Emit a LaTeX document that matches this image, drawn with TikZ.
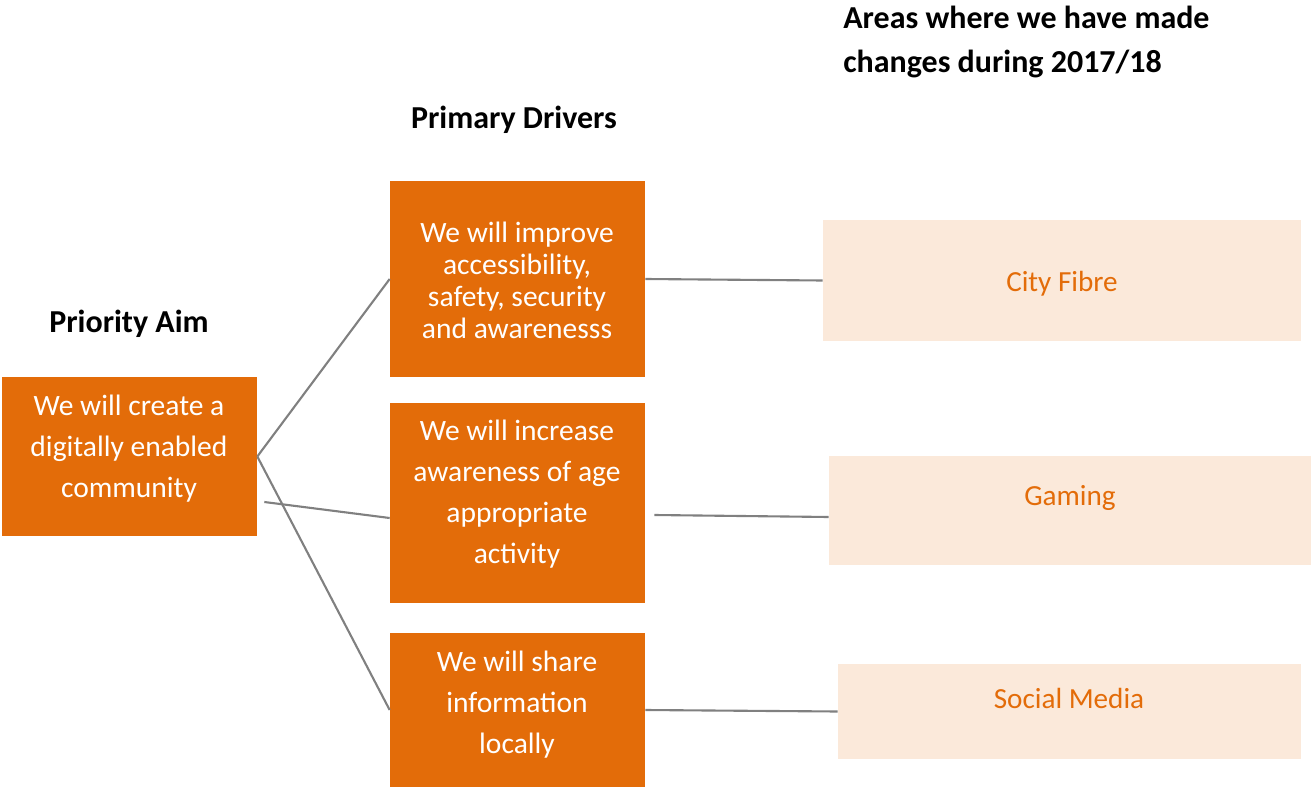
\documentclass[tikz,border=0pt]{standalone}
\usepackage{fontspec}
\setmainfont{Carlito}
\definecolor{darkorange}{HTML}{E36C09}
\definecolor{peach}{HTML}{FBE9DA}
\definecolor{linkgray}{HTML}{808080}

\begin{document}
\begin{tikzpicture}[x=0.02cm, y=-0.02cm,
    orangebox/.style={fill=darkorange, inner sep=0pt, minimum width=5.1cm},
    areabox/.style={fill=peach, inner sep=0pt},
    boxtext/.style={text=white, align=center, font=\fontsize{16.8}{23.3}\selectfont},
    areatext/.style={text=darkorange, font=\fontsize{16.6}{19}\selectfont},
    heading/.style={font=\fontsize{18.2}{25}\selectfont\bfseries, align=left, inner sep=0pt},
    link/.style={draw=linkgray, line width=1.2pt}]
    \useasboundingbox (0,0) rectangle (1311,787);

    % headings
    \node[heading] (aimhead) at (129,324) {Priority Aim};
    \node[heading] (drvhead) at (514,120) {Primary Drivers};
    \node[heading, anchor=west] (areahead) at (843,42)
      {Areas where we have made\\changes during 2017/18};

    % boxes
    \node[orangebox, minimum height=3.18cm] (aim) at (129.5,456.5) {};
    \node[orangebox, minimum height=3.92cm] (d1) at (517.5,279) {};
    \node[orangebox, minimum height=4.0cm] (d2) at (517.5,503) {};
    \node[orangebox, minimum height=3.08cm] (d3) at (517.5,710) {};
    \node[areabox, minimum width=9.56cm, minimum height=2.42cm] (a1) at (1062,280.5) {};
    \node[areabox, minimum width=9.64cm, minimum height=2.18cm] (a2) at (1070,510.5) {};
    \node[areabox, minimum width=9.26cm, minimum height=1.9cm] (a3) at (1069.5,711.5) {};

    % texts
    \node[boxtext] (aimtext) at (129,448.5)
      {We will create a\\digitally enabled\\community};
    \node[boxtext, font=\fontsize{16.8}{18.2}\selectfont] (d1text) at (517,280.5)
      {We will improve\\accessibility,\\safety, security\\and awarenesss};
    \node[boxtext] (d2text) at (517,494.5)
      {We will increase\\awareness of age\\appropriate\\activity};
    \node[boxtext] (d3text) at (517,704.5)
      {We will share\\information\\locally};
    \node[areatext] (a1text) at (1062,283.5) {City Fibre};
    \node[areatext] (a2text) at (1070,497.5) {Gaming};
    \node[areatext] (a3text) at (1069,698) {Social Media};

    % connectors
    \draw[link] (aim.east) -- (d1.west);
    \draw[link] (aim.east) -- (d3.west);
    \draw[link] ([shift={(7,45.5)}]aim.east) -- ([shift={(0,15)}]d2.west);
    \draw[link] (d1.east) -- (a1.west);
    \draw[link] ([shift={(9,12)}]d2.east) -- ([shift={(0,6.5)}]a2.west);
    \draw[link] (d3.east) -- (a3.west);
  \end{tikzpicture}
\end{document}
